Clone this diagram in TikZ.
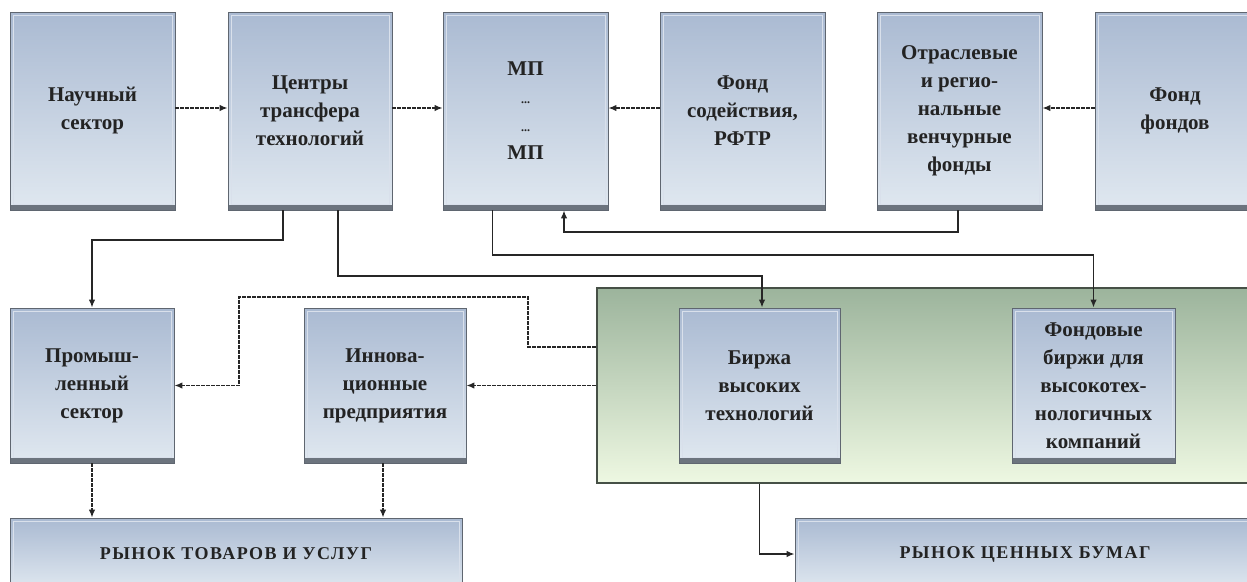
\documentclass[tikz,border=0pt]{standalone}
\usepackage{fontspec}
\setmainfont{Liberation Serif}
\newfontfamily\capsfont[LetterSpace=8]{Liberation Serif}
\usetikzlibrary{arrows.meta}
\definecolor{bxtop}{RGB}{170,186,210}
\definecolor{bxbot}{RGB}{224,232,240}
\definecolor{bxline}{RGB}{95,102,112}
\definecolor{bxedge}{RGB}{108,116,126}
\definecolor{grtop}{RGB}{156,180,156}
\definecolor{grbot}{RGB}{238,248,226}
\definecolor{grline}{RGB}{70,80,70}
\definecolor{txt}{RGB}{35,35,35}
\tikzset{
  blk/.style={rectangle, draw=bxline, line width=0.9pt, top color=bxtop, bottom color=bxbot,
    align=center, inner sep=0pt, text=txt,
    font=\bfseries\fontsize{21}{28}\selectfont,
    path picture={
      \draw[white!55!bxtop, line width=0.6pt]
        ([xshift=3pt,yshift=6pt]path picture bounding box.south west) rectangle
        ([xshift=-3pt,yshift=-3pt]path picture bounding box.north east);
      \fill[bxedge] (path picture bounding box.south west) rectangle
        ([yshift=5pt]path picture bounding box.south east);}},
  topbox/.style={blk, minimum width=165pt, minimum height=198pt},
  midbox/.style={blk, minimum width=162pt, minimum height=155pt},
  mkt/.style={blk, minimum height=72pt, font=\capsfont\bfseries\fontsize{18}{22}\selectfont},
  grn/.style={rectangle, draw=grline, line width=1.6pt, top color=grtop, bottom color=grbot,
    minimum width=668pt, minimum height=195pt, inner sep=0pt},
  arr/.style={-{Latex[length=8pt,width=6.5pt]}, line width=1.4pt, draw=black!85},
  darr/.style={arr, dash pattern=on 4pt off 1pt},
}
\begin{document}
\begin{tikzpicture}[x=1pt,y=-1pt]
\clip (0,0) rectangle (1247,581);
\fill[white] (0,0) rectangle (1247,581);
% green area
\node[grn] (green) at (931,385.5) {};
% top row
\node[topbox] (nauch) at (92.5,111) {Научный\\сектор};
\node[topbox, minimum width=164pt] (ctt) at (310,111) {Центры\\трансфера\\технологий};
\node[topbox] (mp) at (525.5,111) {МП\\{\fontsize{12}{28}\selectfont ...}\\{\fontsize{12}{28}\selectfont ...}\\МП};
\node[topbox] (fond) at (742.5,111) {Фонд\\содействия,\\РФТР};
\node[topbox] (otr) at (959.5,111) {Отраслевые\\и регио-\\нальные\\венчурные\\фонды};
\node[topbox, minimum width=160pt] (ff) at (1175,111) {Фонд\\фондов};
% middle row
\node[midbox, minimum width=164pt] (prom) at (92,385.5) {Промыш-\\ленный\\сектор};
\node[midbox] (innov) at (385,385.5) {Иннова-\\ционные\\предприятия};
\node[midbox, minimum width=161pt] (birzha) at (759.5,385.5) {Биржа\\высоких\\технологий};
\node[midbox, minimum width=163pt] (fbir) at (1093.5,385.5) {Фондовые\\биржи для\\высокотех-\\нологичных\\компаний};
% markets
\node[mkt, minimum width=452pt] (rtov) at (236,554) {РЫНОК ТОВАРОВ И УСЛУГ};
\node[mkt, minimum width=460pt] (rcb) at (1025,554) {РЫНОК ЦЕННЫХ БУМАГ};
% connectors, top row
\draw[darr] ([yshift=3pt]nauch.east) -- ([yshift=3pt]ctt.west);
\draw[darr] ([yshift=3pt]ctt.west -| ctt.east) -- ([yshift=3pt]mp.west);
\draw[darr] ([yshift=3pt]fond.west) -- ([yshift=3pt]mp.east);
\draw[darr] ([yshift=3pt]ff.west) -- ([yshift=3pt]otr.east);
% otr -> mp
\coordinate (c1) at (564,232);
\draw[arr] ([xshift=-1.5pt]otr.south) |- (c1) -- (c1 |- mp.south);
% mp -> fbir
\draw[arr] ([xshift=-33pt]mp.south) |- (fbir.north |- 0,255) -- (fbir.north);
% ctt -> prom
\draw[arr] ([xshift=-27pt]ctt.south) |- (prom.north |- 0,240) -- (prom.north);
% ctt -> birzha
\coordinate (c2) at (762,276);
\draw[arr] ([xshift=28pt]ctt.south) |- (c2) -- (c2 |- birzha.north);
% green -> prom
\coordinate (g1) at (528,347);
\coordinate (g2) at (239,297);
\draw[darr] (green.west |- g1) -- (g1) |- (g2) |- (prom.east);
% green -> innov
\draw[darr] (green.west |- innov.east) -- (innov.east);
% to markets
\draw[darr] (prom.south) -- (prom.south |- rtov.north);
\draw[darr] ([xshift=-2pt]innov.south) -- ([xshift=-2pt]innov.south |- rtov.north);
\draw[arr] (green.south -| birzha.south) |- (rcb.west);
\end{tikzpicture}
\end{document}
